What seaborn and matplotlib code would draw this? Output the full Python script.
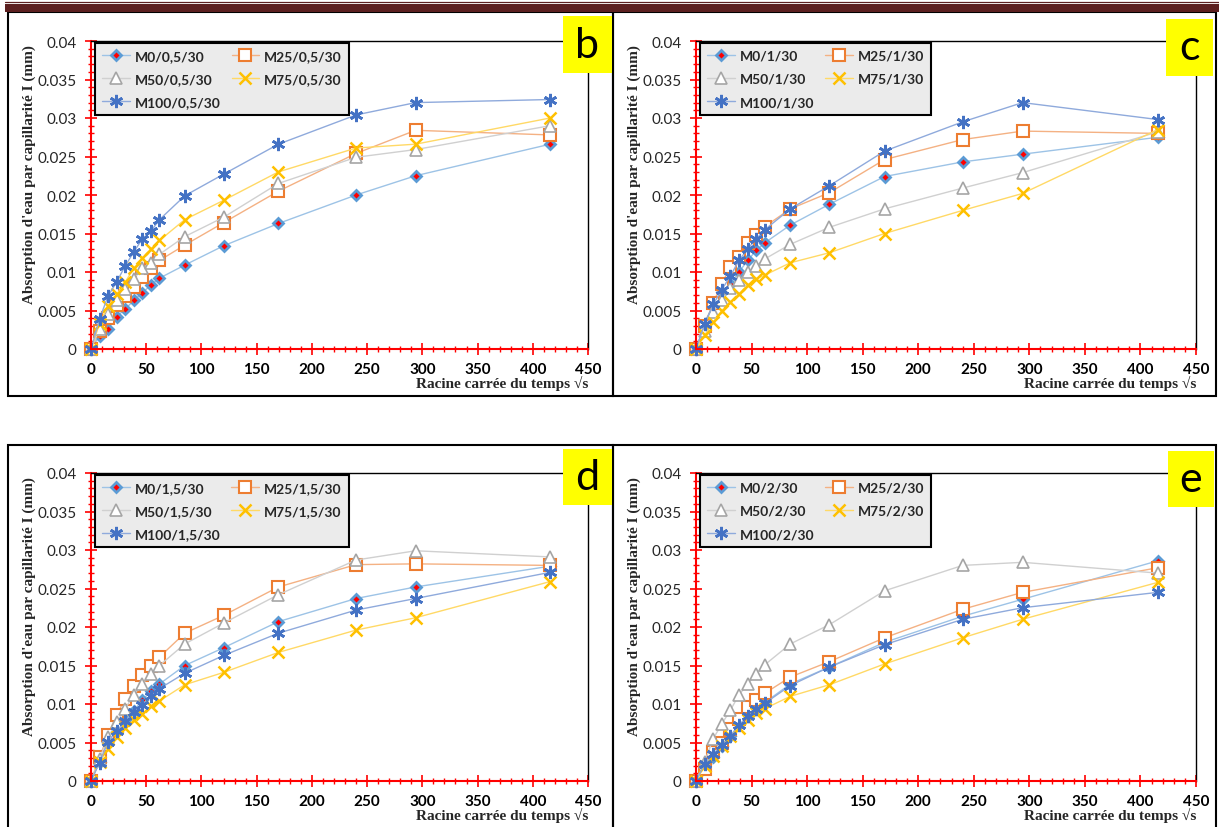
import matplotlib
matplotlib.use("Agg")
import matplotlib.pyplot as plt
import seaborn as sns
from matplotlib.patches import Rectangle
from matplotlib.lines import Line2D
from matplotlib.ticker import MultipleLocator, FuncFormatter

###### Data
racine_t = [0, 7.75, 15.5, 23.2, 31, 38.7, 46.5, 54.2, 62, 84.9, 120, 169.7, 240, 293.9, 415.7]

# b : 0,5/30
b_m0 = [0, 0.0017, 0.0026, 0.0042, 0.0052, 0.0063, 0.0073, 0.0083, 0.0092, 0.0109, 0.0134, 0.0163, 0.0200, 0.0225, 0.0266]
b_m25 = [0, 0.0024, 0.0040, 0.0057, 0.0069, 0.0080, 0.0093, 0.0105, 0.0115, 0.0135, 0.0164, 0.0205, 0.0254, 0.0284, 0.0278]
b_m50 = [0, 0.0026, 0.0045, 0.0063, 0.0078, 0.0091, 0.0105, 0.0112, 0.0123, 0.0146, 0.0171, 0.0215, 0.0249, 0.0259, 0.0290]
b_m75 = [0, 0.0033, 0.0056, 0.0071, 0.0087, 0.0105, 0.0118, 0.0130, 0.0141, 0.0168, 0.0193, 0.0230, 0.0261, 0.0266, 0.0300]
b_m100 = [0, 0.0039, 0.0069, 0.0087, 0.0108, 0.0126, 0.0143, 0.0153, 0.0168, 0.0199, 0.0227, 0.0266, 0.0304, 0.0320, 0.0324]

# c : 1/30
c_m0 = [0, 0.0032, 0.0058, 0.0074, 0.0085, 0.0100, 0.0115, 0.0128, 0.0138, 0.0161, 0.0188, 0.0224, 0.0243, 0.0253, 0.0275]
c_m25 = [0, 0.0030, 0.0060, 0.0085, 0.0106, 0.0120, 0.0138, 0.0148, 0.0159, 0.0182, 0.0203, 0.0246, 0.0272, 0.0283, 0.0280]
c_m50 = [0, 0.0024, 0.0048, 0.0064, 0.0079, 0.0089, 0.0100, 0.0108, 0.0117, 0.0136, 0.0158, 0.0182, 0.0209, 0.0229, 0.0282]
c_m75 = [0, 0.0018, 0.0035, 0.0050, 0.0061, 0.0072, 0.0083, 0.0091, 0.0096, 0.0112, 0.0125, 0.0150, 0.0180, 0.0202, 0.0285]
c_m100 = [0, 0.0032, 0.0058, 0.0077, 0.0095, 0.0115, 0.0130, 0.0143, 0.0155, 0.0182, 0.0212, 0.0257, 0.0295, 0.0320, 0.0298]

# d : 1,5/30
d_m0 = [0, 0.0025, 0.0053, 0.0066, 0.0079, 0.0091, 0.0105, 0.0117, 0.0126, 0.0150, 0.0173, 0.0207, 0.0237, 0.0252, 0.0279]
d_m25 = [0, 0.0031, 0.0060, 0.0086, 0.0107, 0.0124, 0.0138, 0.0149, 0.0161, 0.0192, 0.0215, 0.0252, 0.0281, 0.0282, 0.0280]
d_m50 = [0, 0.0029, 0.0057, 0.0076, 0.0094, 0.0112, 0.0126, 0.0139, 0.0150, 0.0178, 0.0205, 0.0242, 0.0287, 0.0299, 0.0291]
d_m75 = [0, 0.0025, 0.0042, 0.0057, 0.0069, 0.0079, 0.0087, 0.0097, 0.0104, 0.0125, 0.0141, 0.0167, 0.0196, 0.0212, 0.0259]
d_m100 = [0, 0.0024, 0.0051, 0.0065, 0.0078, 0.0090, 0.0099, 0.0111, 0.0120, 0.0140, 0.0163, 0.0192, 0.0222, 0.0237, 0.0271]

# e : 2/30
e_m0 = [0, 0.0022, 0.0031, 0.0046, 0.0059, 0.0074, 0.0085, 0.0094, 0.0102, 0.0126, 0.0148, 0.0180, 0.0214, 0.0236, 0.0286]
e_m25 = [0, 0.0015, 0.0038, 0.0050, 0.0068, 0.0081, 0.0096, 0.0105, 0.0114, 0.0135, 0.0155, 0.0186, 0.0223, 0.0245, 0.0277]
e_m50 = [0, 0.0025, 0.0055, 0.0074, 0.0092, 0.0112, 0.0126, 0.0139, 0.0151, 0.0178, 0.0203, 0.0247, 0.0280, 0.0284, 0.0270]
e_m75 = [0, 0.0020, 0.0033, 0.0046, 0.0059, 0.0069, 0.0079, 0.0088, 0.0094, 0.0110, 0.0125, 0.0152, 0.0186, 0.0210, 0.0258]
e_m100 = [0, 0.0022, 0.0035, 0.0047, 0.0059, 0.0073, 0.0084, 0.0094, 0.0101, 0.0124, 0.0148, 0.0177, 0.0210, 0.0225, 0.0245]

mixes = ["M0", "M25", "M50", "M75", "M100"]
panels = [
    ("b", "0,5", [b_m0, b_m25, b_m50, b_m75, b_m100]),
    ("c", "1", [c_m0, c_m25, c_m50, c_m75, c_m100]),
    ("d", "1,5", [d_m0, d_m25, d_m50, d_m75, d_m100]),
    ("e", "2", [e_m0, e_m25, e_m50, e_m75, e_m100]),
]

###### Styles
styles = {
    "M0":   dict(marker="D", markersize=5.5, markerfacecolor="#ff0000", markeredgecolor="#5b9bd5", markeredgewidth=2.0, color="#9dc3e6"),
    "M25":  dict(marker="s", markersize=8, markerfacecolor="white", markeredgecolor="#ed7d31", markeredgewidth=1.5, color="#f4b183"),
    "M50":  dict(marker="^", markersize=8, markerfacecolor="white", markeredgecolor="#a5a5a5", markeredgewidth=1.2, color="#d0d0d0"),
    "M75":  dict(marker="x", markersize=8, markerfacecolor="none", markeredgecolor="#ffc000", markeredgewidth=1.8, color="#ffd966"),
    "M100": dict(marker=(6, 2, 0), markersize=9.5, markerfacecolor="none", markeredgecolor="#4472c4", markeredgewidth=1.9, color="#8faadc"),
}

sns.set_style("white")
plt.rcParams['font.family'] = ['Lato', 'DejaVu Sans']

W, H = 1219, 828
fig = plt.figure(figsize=(W / 100, H / 100), dpi=100)

def fx(px): return px / W
def fy(py): return 1 - py / H

# axes rectangles in pixels: left, top(0.04), right(450), bottom(0)
axes_px = {
    "b": (91, 42, 588, 350),
    "c": (696, 42, 1196, 350),
    "d": (91, 474, 588, 782),
    "e": (696, 474, 1196, 782),
}
boxes_px = {
    "b": (563, 17, 612, 74),
    "c": (1166, 20, 1213, 77),
    "d": (563, 450, 612, 506),
    "e": (1168, 452, 1214, 508),
}

red = "#ff0000"
serif = ['Liberation Serif', 'DejaVu Serif']

for letter, rate, series in panels:
    l, t, r, btm = axes_px[letter]
    ax = fig.add_axes([fx(l), fy(btm), fx(r) - fx(l), fy(t) - fy(btm)])
    for mix, vals in zip(mixes, series):
        st = styles[mix]
        sns.lineplot(x=racine_t, y=vals, ax=ax, label=f"{mix}/{rate}/30",
                     errorbar=None, linewidth=1.0, clip_on=False, **st)

    ax.set_xlim(0, 450)
    ax.set_ylim(0, 0.04)
    ax.xaxis.set_major_locator(MultipleLocator(50))
    ax.xaxis.set_minor_locator(MultipleLocator(10))
    ax.yaxis.set_major_locator(MultipleLocator(0.005))
    ax.yaxis.set_minor_locator(MultipleLocator(0.001))
    ax.yaxis.set_major_formatter(FuncFormatter(lambda v, p: f"{v:g}"))

    for side in ["left", "bottom"]:
        ax.spines[side].set_color(red)
        ax.spines[side].set_linewidth(1.5)
    for side in ["top", "right"]:
        ax.spines[side].set_color("black")
        ax.spines[side].set_linewidth(1.0)

    ax.tick_params(which="major", direction="inout", length=9, width=1.2, color=red,
                   left=True, bottom=True)
    ax.tick_params(which="minor", direction="inout", length=5, width=1.0, color=red,
                   left=True, bottom=True)
    ax.tick_params(axis="y", labelsize=11, labelcolor="#262626", pad=6)
    ax.tick_params(axis="x", labelsize=11, labelcolor="black", pad=5)
    for lab in ax.get_xticklabels():
        lab.set_fontweight("bold")

    ax.set_ylabel("Absorption d'eau par capillarité I (mm)", family=serif,
                  fontweight="bold", fontsize=11)
    ax.yaxis.set_label_coords(-0.11, 0.57)
    ax.set_xlabel("Racine carrée du temps √s", family=serif, fontweight="bold",
                  fontsize=11, loc="right")
    ax.xaxis.set_label_coords(1.0, -0.085)

    # legend in row order: M0 M25 / M50 M75 / M100
    handles, labels = ax.get_legend_handles_labels()
    order = [0, 2, 4, 1, 3]
    leg = ax.legend([handles[i] for i in order], [labels[i] for i in order],
                    ncol=2, loc="upper left", bbox_to_anchor=(0.008, 0.994),
                    borderaxespad=0, fancybox=False, framealpha=1,
                    facecolor="#ebebeb", edgecolor="black",
                    prop=dict(weight="bold", size=10), handlelength=2.0,
                    columnspacing=0.8, handletextpad=0.35, labelspacing=0.8,
                    borderpad=0.5)
    leg.get_frame().set_linewidth(1.5)

    # yellow letter box
    x0, y0, x1, y1 = boxes_px[letter]
    fig.add_artist(Rectangle((fx(x0), fy(y1)), fx(x1) - fx(x0), fy(y0) - fy(y1),
                             transform=fig.transFigure, facecolor="#ffff00",
                             edgecolor="none", zorder=5))
    fig.text(fx((x0 + x1) / 2), fy((y0 + y1) / 2), letter, ha="center",
             va="center", fontsize=31, color="black", zorder=6)

# panel borders
for (x0, y0, x1, y1) in [(8, 13, 613, 397), (613, 13, 1216, 397),
                         (8, 446, 613, 840), (613, 446, 1216, 840)]:
    fig.add_artist(Rectangle((fx(x0), fy(y1)), fx(x1) - fx(x0), fy(y0) - fy(y1),
                             transform=fig.transFigure, facecolor="none",
                             edgecolor="black", linewidth=1.5, zorder=4))

# dark red header bar
fig.add_artist(Rectangle((fx(5), fy(13)), 1 - fx(5), fy(5) - fy(13),
                         transform=fig.transFigure, facecolor="#5c1f1f",
                         edgecolor="none", zorder=5))
fig.add_artist(Line2D([fx(5), 1], [fy(2.8), fy(2.8)], transform=fig.transFigure,
                      color="#5c1f1f", linewidth=0.9, zorder=5))

fig.savefig("out.png", dpi=100)
